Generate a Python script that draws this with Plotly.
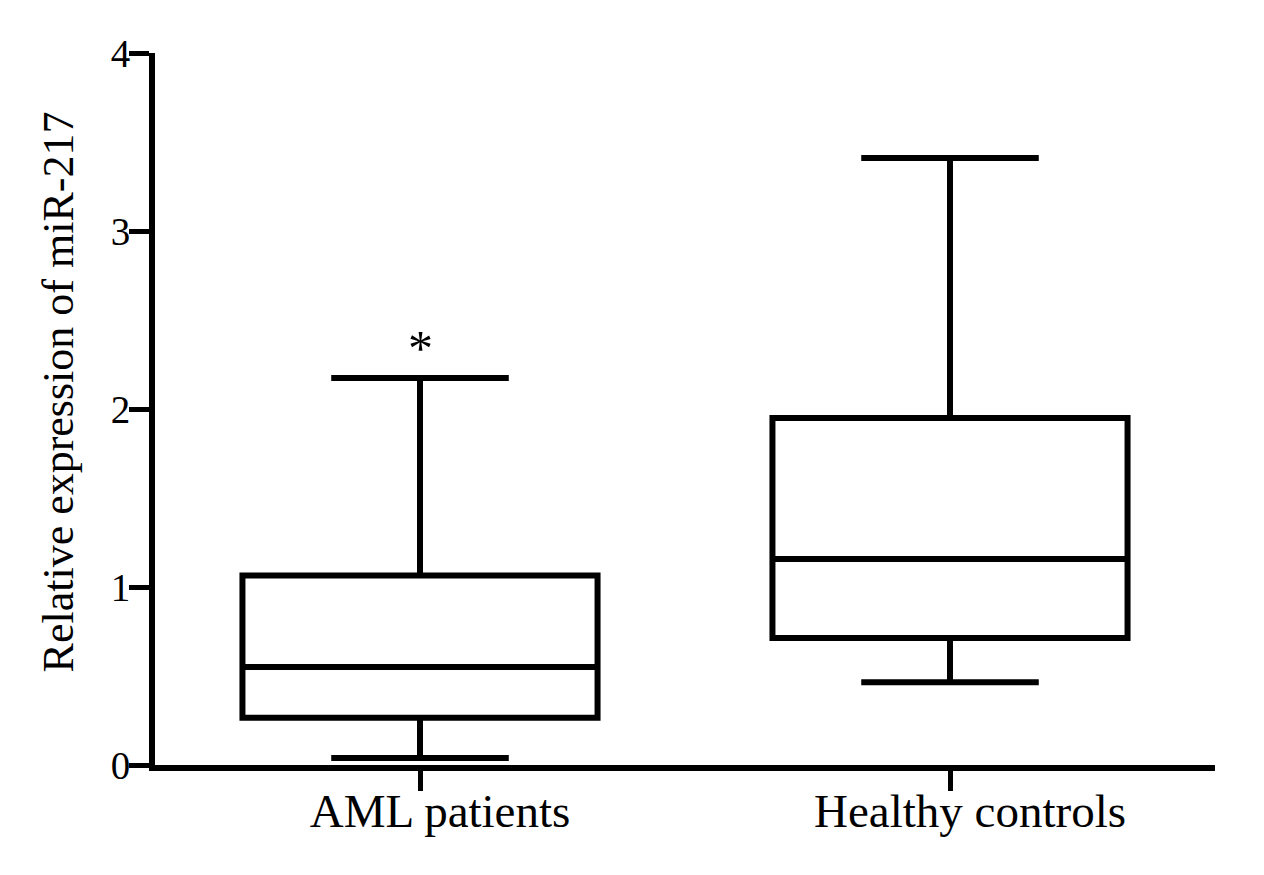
import plotly.graph_objects as go

# Data
categories = ["AML patients", "Healthy controls"]
lower_whisker = [0.04, 0.465]
q1_values = [0.265, 0.713]
median_values = [0.55, 1.157]
q3_values = [1.065, 1.95]
upper_whisker = [2.174, 3.41]
y_tick_values = [0, 1, 2, 3, 4]
y_tick_labels = ["0", "1", "2", "3", "4"]
significance_marks = ["*", ""]

FONT = "Liberation Serif, Times New Roman, serif"

fig = go.Figure()
for i, cat in enumerate(categories):
    fig.add_trace(go.Box(
        x=[cat],
        q1=[q1_values[i]],
        median=[median_values[i]],
        q3=[q3_values[i]],
        lowerfence=[lower_whisker[i]],
        upperfence=[upper_whisker[i]],
        fillcolor="white",
        line=dict(color="black", width=6),
        whiskerwidth=0.5,
        width=0.67,
        boxpoints=False,
        showlegend=False,
        hoverinfo="skip",
    ))

for i, cat in enumerate(categories):
    if significance_marks[i]:
        fig.add_annotation(
            x=cat, y=upper_whisker[i], xref="x", yref="y",
            text=significance_marks[i], showarrow=False,
            yanchor="bottom", yshift=0,
            font=dict(family=FONT, size=50, color="black"),
        )

fig.add_annotation(
    xref="paper", yref="paper", x=-0.0906, y=0.5246,
    text="Relative expression of miR-217", textangle=-90,
    showarrow=False, xanchor="center", yanchor="middle",
    font=dict(family=FONT, size=44, color="black"),
)

fig.update_layout(
    width=1248, height=859,
    margin=dict(l=147, r=41, t=45, b=102, autoexpand=False),
    paper_bgcolor="white", plot_bgcolor="white",
    font=dict(family=FONT, color="black"),
    xaxis=dict(
        type="category", range=[-0.5, 1.5],
        showline=True, linecolor="black", linewidth=6,
        ticks="outside", ticklen=20, tickwidth=5, tickcolor="black",
        tickfont=dict(family=FONT, size=47, color="black"),
        ticklabelshift=20, ticklabelstandoff=-20,
        showgrid=False, zeroline=False,
    ),
    yaxis=dict(
        range=[0, 4], tickvals=y_tick_values, ticktext=y_tick_labels,
        showline=True, linecolor="black", linewidth=6,
        ticks="outside", ticklen=20, tickwidth=5, tickcolor="black",
        tickfont=dict(family=FONT, size=39, color="black"),
        ticklabelstandoff=-9,
        showgrid=False, zeroline=False,
    ),
)

fig.write_html("out.html")
